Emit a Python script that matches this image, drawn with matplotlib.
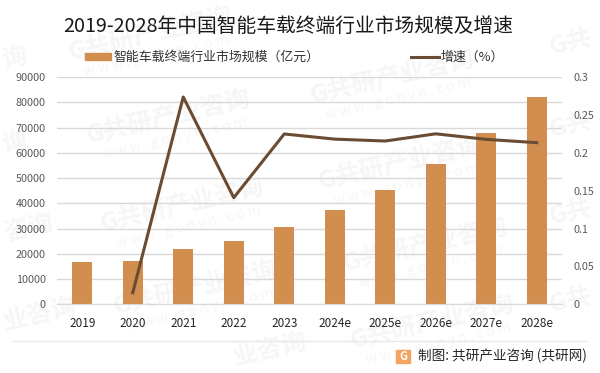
import matplotlib
matplotlib.use("Agg")
import matplotlib.pyplot as plt
from matplotlib.patches import Rectangle
from matplotlib.lines import Line2D

plt.rcParams['font.family'] = ['Noto Sans CJK SC', 'DejaVu Sans']

# Data
years = ['2019', '2020', '2021', '2022', '2023', '2024e', '2025e', '2026e', '2027e', '2028e']
market_size = [16760, 17150, 21900, 25060, 30600, 37340, 45260, 55550, 67830, 82080]
growth_pos = [1, 2, 3, 4, 5, 6, 7, 8, 9]
growth = [0.0153, 0.2736, 0.1407, 0.2248, 0.218, 0.2155, 0.225, 0.2177, 0.2133]

left_ticks = [0, 10000, 20000, 30000, 40000, 50000, 60000, 70000, 80000, 90000]
right_ticks = [0, 0.05, 0.1, 0.15, 0.2, 0.25, 0.3]
right_labels = ['0', '0.05', '0.1', '0.15', '0.2', '0.25', '0.3']

title = '2019-2028年中国智能车载终端行业市场规模及增速'
# full-width brackets, as in the reference
bar_name = '智能车载终端行业市场规模\uff08亿元\uff09'
line_name = '增速\uff08%\uff09'
credit = '制图: 共研产业咨询 (共研网)'

W, H = 600, 373
bar_color = '#d18e4f'
line_color = '#6b4c33'
grid_color = '#d9d9d9'
text_color = '#595959'


# pixel position (from top-left) to figure fraction
def px(x, y):
    return x / W, 1 - y / H


fig = plt.figure(figsize=(W / 100, H / 100), dpi=100, facecolor='white')

# Faint watermarks, kept inside the canvas
marks = [(150, 34, 'G共研产业咨询'), (168, 117, 'G共研产业咨询'), (392, 77, 'G共研产业咨询'),
         (400, 163, 'G共研产业咨询'), (182, 205, 'G共研产业咨询'), (195, 288, 'G共研产业咨询'),
         (425, 245, 'G共研产业咨询'), (432, 322, 'G共研产业咨询'), (270, 350, '业咨询'),
         (14, 58, '询'), (14, 143, '询'), (29, 229, '咨询'), (40, 315, '业咨询'),
         (570, 42, 'G共'), (570, 125, 'G共'), (570, 212, 'G共'), (570, 300, 'G共')]
for mx, my, txt in marks:
    fig.text(*px(mx, my), txt, fontsize=18, weight='bold', color='#f6f6f6',
             rotation=13, ha='center', va='center', zorder=0)
    if len(txt) > 4:
        fig.text(*px(mx + 6, my + 22), 'w w w . g o n y n . c o m', fontsize=10, color='#f6f6f6',
                 rotation=13, ha='center', va='center', zorder=0)

# Plot area in pixels
x0, x1, y_top, y_bot = 57, 562, 77, 304.3
ax = fig.add_axes([x0 / W, 1 - y_bot / H, (x1 - x0) / W, (y_bot - y_top) / H])
ax.set_zorder(2)
ax.patch.set_alpha(0)

ax.bar(range(len(years)), market_size, width=0.4, color=bar_color, zorder=2)
ax.set_xlim(-0.5, 9.5)
ax.set_ylim(0, 90000)
ax.set_yticks(left_ticks)
ax.set_xticks(range(len(years)))
ax.set_xticklabels(years, fontsize=8.5, color='#262626')
ax.tick_params(axis='x', length=0, pad=9)
ax.tick_params(axis='y', length=0, pad=8, labelsize=7.8, labelcolor=text_color)
ax.grid(axis='y', color=grid_color, lw=1, zorder=0)
ax.set_axisbelow(True)
for s in ['top', 'left', 'right']:
    ax.spines[s].set_visible(False)
ax.spines['bottom'].set_color(grid_color)

ax2 = ax.twinx()
ax2.plot(growth_pos, growth, color=line_color, lw=2.2, zorder=3)
ax2.set_ylim(0, 0.3)
ax2.set_yticks(right_ticks)
ax2.set_yticklabels(right_labels)
ax2.tick_params(axis='y', length=0, pad=8, labelsize=7.8, labelcolor=text_color)
for s in ax2.spines.values():
    s.set_visible(False)

fig.text(*px(288.5, 26), title, fontsize=14.2, color='#1a1a1a', ha='center', va='center')

# Legend
lx, ly = px(85, 60)
fig.add_artist(Rectangle((lx, ly), 26 / W, 7 / H, color=bar_color, transform=fig.transFigure))
fig.text(*px(113, 57), bar_name, fontsize=9.3, color='#333333', va='center')
fig.add_artist(Line2D([411 / W, 439 / W], [1 - 56.5 / H, 1 - 56.5 / H], color=line_color, lw=2.2,
                      transform=fig.transFigure))
fig.text(*px(441, 57), line_name, fontsize=9.3, color='#333333', va='center')

# Footer
fig.add_artist(Line2D([13 / W, 586 / W], [1 - 341 / H, 1 - 341 / H], color='#e8e8e8', lw=1,
                      transform=fig.transFigure))
gx, gy = px(396, 363)
fig.add_artist(Rectangle((gx, gy), 14 / W, 13 / H, color='#f4a460', transform=fig.transFigure))
fig.text(*px(403, 356.5), 'G', fontsize=8, color='white', weight='bold', ha='center', va='center')
fig.text(*px(418, 356), credit, fontsize=9.8, color='#262626', va='center')

fig.savefig('out.png', dpi=100)
